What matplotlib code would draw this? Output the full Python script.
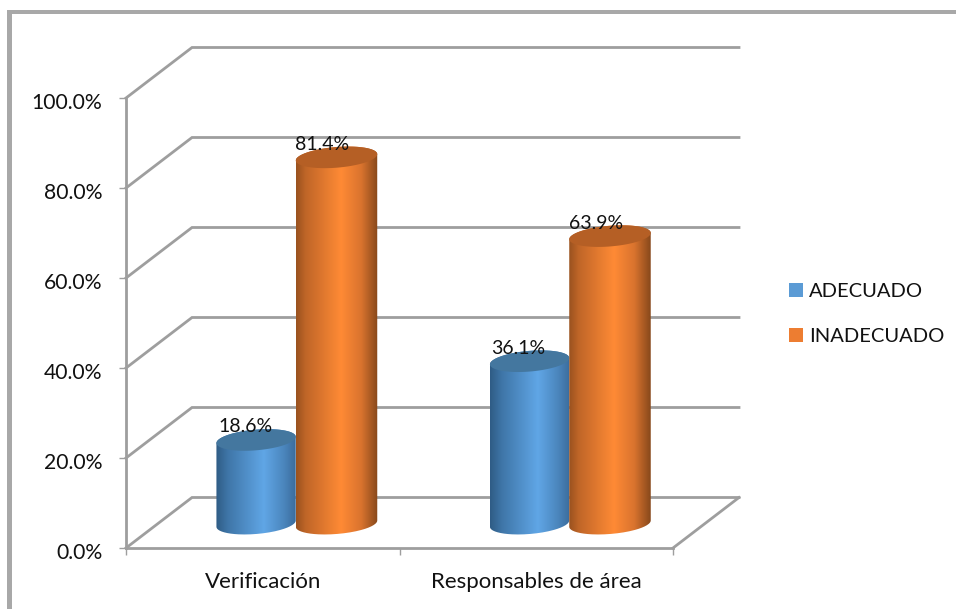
import numpy as np
import matplotlib
matplotlib.use("Agg")
import matplotlib.pyplot as plt
from matplotlib.colors import LinearSegmentedColormap
from matplotlib.patches import Patch, PathPatch, Rectangle
from matplotlib.path import Path
from matplotlib.transforms import ScaledTranslation

categorias = ["Verificación", "Responsables de área"]
adecuado = [18.6, 36.1]
inadecuado = [81.4, 63.9]
series = ["ADECUADO", "INADECUADO"]
yticks = [0, 20, 40, 60, 80, 100]

plt.rcParams["font.family"] = ["Lato", "DejaVu Sans"]

W, H = 956, 609
GRIS = "#9e9e9e"
TEXTO = "#111111"
# desplazamiento de la pared del fondo, en unidades de datos
DX = 66 / 547 * 2
DY = 50.5 / 450 * 100
R_AZUL = 0.145     # radios de los cilindros en x
R_NARANJA = 0.149
ELIP = 2.3         # semieje vertical de la tapa en y
INCL = 0.7         # inclinacion de la tapa


def cilindro(ax, xc, radio, valor, cmap, color_tapa, z):
    yb = DY / 2 - 0.2
    yt = yb + valor
    t = np.linspace(0, np.pi, 80)
    # cuerpo: borde inferior de izquierda a derecha y cierre por arriba
    xs = xc - radio * np.cos(t)
    ys_abajo = yb - ELIP * np.sin(t) + INCL * (-np.cos(t))
    ys_arriba = yt + ELIP * np.sin(t[::-1]) + INCL * (-np.cos(t[::-1]))
    vx = np.concatenate([xs, xs[::-1], xs[:1]])
    vy = np.concatenate([ys_abajo, ys_arriba, ys_abajo[:1]])
    cuerpo = PathPatch(Path(np.column_stack([vx, vy])), fc="none", ec="none", zorder=z)
    ax.add_patch(cuerpo)
    grad = np.linspace(0, 1, 256).reshape(1, -1)
    im = ax.imshow(grad, cmap=cmap, aspect="auto", zorder=z,
                   extent=[xc - radio, xc + radio, yb - 5, yt + 5])
    im.set_clip_path(cuerpo)
    # tapa superior
    t2 = np.linspace(0, 2 * np.pi, 120)
    tx = xc + radio * np.cos(t2)
    ty = yt + ELIP * np.sin(t2) + INCL * np.cos(t2)
    ax.fill(tx, ty, color=color_tapa, lw=0, zorder=z + 0.1)


fig = plt.figure(figsize=(W / 100, H / 100), dpi=100)
fig.patches.append(Rectangle((7 / W, 0), 5 / W, 1 - 10 / H, transform=fig.transFigure,
                             fc="#a8a8a8", ec="none"))
fig.patches.append(Rectangle((7 / W, 1 - 14 / H), 1 - 7 / W, 4 / H, transform=fig.transFigure,
                             fc="#a8a8a8", ec="none"))

ax = fig.add_axes([126 / W, (H - 548) / H, 547 / W, 450 / H])
ax.patch.set_alpha(0)

# paredes, lineas de division y suelo
for v in yticks:
    ax.plot([0, DX, 2 + DX], [v, v + DY, v + DY], color=GRIS, lw=2.0, zorder=1,
            clip_on=False, solid_joinstyle="miter")
ax.plot([2, 2 + DX], [0, DY], color=GRIS, lw=2.0, zorder=1, clip_on=False)

naranja = LinearSegmentedColormap.from_list(
    "naranja", [(0, "#99521f"), (0.12, "#c06628"), (0.55, "#ff8a35"),
                (0.8, "#d9732e"), (1, "#87481b")])
azul = LinearSegmentedColormap.from_list(
    "azul", [(0, "#2f5c85"), (0.15, "#3f76a8"), (0.6, "#60a6e6"),
             (0.85, "#4b86bd"), (1, "#3b6c9c")])

for i in range(len(categorias)):
    xc = i + 0.5 + DX / 2
    cilindro(ax, xc - R_AZUL, R_AZUL, adecuado[i], azul, "#44779f", 3 + i * 2)
    cilindro(ax, xc + R_NARANJA, R_NARANJA, inadecuado[i], naranja, "#b55f25", 4 + i * 2)
    ax.text(xc - R_AZUL - 0.04, adecuado[i] + DY / 2 + 2.7, f"{adecuado[i]:.1f}%", ha="center",
            va="center", fontsize=14, color=TEXTO, zorder=10)
    ax.text(xc + R_NARANJA - 0.052, inadecuado[i] + DY / 2 + 2.7, f"{inadecuado[i]:.1f}%", ha="center",
            va="center", fontsize=14, color=TEXTO, zorder=10)

ax.set_xlim(0, 2)
ax.set_ylim(0, 100)
ax.set_yticks(yticks)
ax.set_yticklabels([f"{v:.1f}%" for v in yticks], fontsize=15.2, color=TEXTO)
ax.set_xticks([0, 1, 2])
ax.set_xticklabels([])
ax.set_xticks([0.5, 1.5], minor=True)
ax.set_xticklabels(categorias, minor=True, fontsize=16, color=TEXTO)
ax.tick_params(axis="x", which="major", length=5, width=1, color=GRIS)
ax.tick_params(axis="x", which="minor", length=0, pad=17)
ax.tick_params(axis="y", length=5, width=1, color=GRIS, pad=12)

# etiquetas del eje y un poco mas abajo
bajar = ScaledTranslation(0, -2.5 / 72, fig.dpi_scale_trans)
for etiqueta in ax.get_yticklabels():
    etiqueta.set_transform(etiqueta.get_transform() + bajar)

for lado in ["top", "right"]:
    ax.spines[lado].set_visible(False)
for lado in ["left", "bottom"]:
    ax.spines[lado].set_color(GRIS)
    ax.spines[lado].set_linewidth(2.0)

handles = [Patch(fc="#5b9bd5", ec="none"), Patch(fc="#ed7d31", ec="none")]
fig.legend(handles, series, loc="center left", bbox_to_anchor=(783 / W, 1 - 314 / H),
           frameon=False, fontsize=14.5, labelcolor=TEXTO, handlelength=0.7, handleheight=0.7,
           handletextpad=0.3, labelspacing=1.35, borderpad=0.3, borderaxespad=0)

fig.savefig("out.png", dpi=100)
